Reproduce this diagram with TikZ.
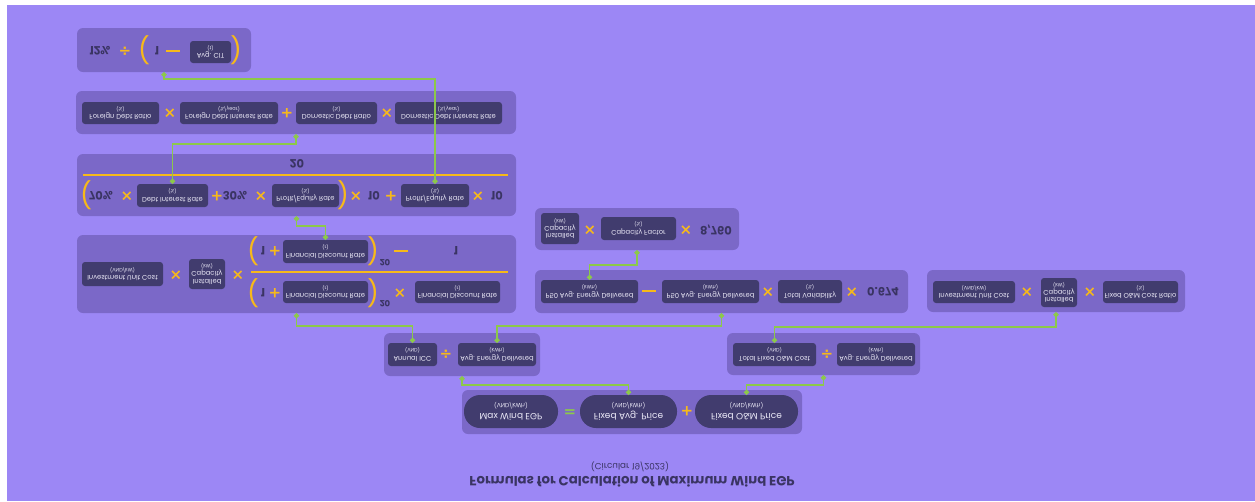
\documentclass[tikz,border=0pt]{standalone}
\usepackage{fontspec}
\setmainfont{Poppins}
\newfontfamily\egpops{DejaVu Sans}
\usetikzlibrary{
    arrows.meta,
    calc
}
\definecolor{egpbg}{HTML}{9C87F5}
\definecolor{egppanel}{HTML}{7B68C8}
\definecolor{egpbox}{HTML}{413C6E}
\definecolor{egplight}{HTML}{ECEAF8}
\definecolor{egpgold}{HTML}{F7B91A}
\definecolor{egpgreen}{HTML}{8CC84B}
\definecolor{egpink}{HTML}{3A3463}
\newcommand{\egpunit}{\fontsize{5}{6}\selectfont}
\newcommand{\egppillunit}{\fontsize{6}{7.5}\selectfont}

\begin{document}
\begin{tikzpicture}[
    x=1pt, y=1pt, yscale=-1, transform shape,
    every node/.style={text=egpink},
    panel/.style={
        rectangle,
        rounded corners=6pt,
        fill=egppanel,
        inner sep=0pt
    },
    varbox/.style={
        rectangle,
        rounded corners=3pt,
        fill=egpbox,
        text=egplight,
        align=center,
        inner sep=1pt,
        font=\fontsize{6.8}{7.4}\selectfont
    },
    pill/.style={
        rectangle,
        rounded corners=16pt,
        fill=egpbox,
        text=egplight,
        align=center,
        inner sep=1pt,
        font=\fontsize{9}{10.5}\selectfont
    },
    op/.style={
        text=#1,
        inner sep=0pt,
        font=\egpops\fontsize{15}{15}\selectfont\bfseries
    },
    op/.default=egpgold,
    minus/.style={
        text=egpgold,
        inner sep=0pt
    },
    num/.style={
        inner sep=0pt,
        font=\fontsize{11.5}{12}\selectfont\bfseries
    },
    expo/.style={
        inner sep=0pt,
        font=\fontsize{8.5}{9}\selectfont\bfseries
    },
    paren/.style={
        text=egpgold,
        inner sep=0pt,
        font=\fontsize{26}{26}\selectfont
    },
    fracbar/.style={
        draw=egpgold,
        line width=2pt
    },
    link/.style={
        {Circle[length=5pt]}-{Circle[length=5pt]},
        draw=egpgreen,
        line width=1.5pt
    }
]

\useasboundingbox (0,0) rectangle (1255,501);
\fill[egpbg] (7,5) rectangle (1255,501);

% =====================================================
% Panels
% =====================================================

\node[panel, minimum width=174pt, minimum height=44pt] (pper) at (164,50) {};
\node[panel, minimum width=440pt, minimum height=43pt] (pdir) at (296,112.5) {};
\node[panel, minimum width=439pt, minimum height=62pt] (pfdr) at (296.5,185) {};
\node[panel, minimum width=439pt, minimum height=78pt] (picc) at (296.5,274) {};
\node[panel, minimum width=204pt, minimum height=42pt] (pp50) at (637,229) {};
\node[panel, minimum width=373pt, minimum height=43pt] (paed) at (721.5,291.5) {};
\node[panel, minimum width=258pt, minimum height=42pt] (pfom) at (1056,291) {};
\node[panel, minimum width=156pt, minimum height=43pt] (pavg) at (462,354.5) {};
\node[panel, minimum width=193pt, minimum height=42pt] (pomp) at (823.5,354) {};
\node[panel, minimum width=340pt, minimum height=44pt] (pegp) at (632,412) {};

% =====================================================
% Profit/Equity Rate
% =====================================================

\node[num] (n12) at (100,51) {12\%};
\node[op] (d1) at (125,51) {÷};
\node[paren] (l1) at (144,50) {(};
\node[num] (one1) at (157,51) {1};
\node[minus] (m1) at (173,51) {\rule{14pt}{2.2pt}};
\node[varbox, minimum width=41pt, minimum height=22pt] (cit) at (210.5,52)
{Avg. CIT\\{\egpunit (t)}};
\node[paren] (r1) at (236,50) {)};

% =====================================================
% Debt Interest Rate
% =====================================================

\node[varbox, minimum width=77pt, minimum height=22pt] (fdebt) at (120.5,113)
{Foreign Debt Ratio\\{\egpunit (\%)}};
\node[op] (x1) at (170,113) {×};
\node[varbox, minimum width=98pt, minimum height=22pt] (fdir) at (229,113)
{Foreign Debt Interest Rate\\{\egpunit (\%/year)}};
\node[op] (a1) at (287,113) {+};
\node[varbox, minimum width=81pt, minimum height=22pt] (ddebt) at (336.5,113)
{Domestic Debt Ratio\\{\egpunit (\%)}};
\node[op] (x2) at (387,113) {×};
\node[varbox, minimum width=107pt, minimum height=22pt] (ddir) at (448.5,113)
{Domestic Debt Interest Rate\\{\egpunit (\%/year)}};

% =====================================================
% Financial Discount Rate
% =====================================================

\node[num] (n20) at (297,164) {20};
\draw[fracbar] (83,175) -- (508,175);

\node[paren] (l2) at (86,195) {(};
\node[num] (n70) at (101,196) {70\%};
\node[op] (x3) at (127,196) {×};
\node[varbox, minimum width=71pt, minimum height=23pt] (dir) at (172.5,195.5)
{Debt Interest Rate\\{\egpunit (\%)}};
\node[op] (a2) at (217,196) {+};
\node[num] (n30) at (235,196) {30\%};
\node[op] (x4) at (261,196) {×};
\node[varbox, minimum width=67pt, minimum height=23pt] (per1) at (305.5,195.5)
{Profit/Equity Rate\\{\egpunit (\%)}};
\node[paren] (r2) at (343,195) {)};
\node[op] (x5) at (356,196) {×};
\node[num] (n10a) at (374,196) {10};
\node[op] (a3) at (391,196) {+};
\node[varbox, minimum width=68pt, minimum height=23pt] (per2) at (435,195.5)
{Profit/Equity Rate\\{\egpunit (\%)}};
\node[op] (x6) at (478,196) {×};
\node[num] (n10b) at (497,196) {10};

% =====================================================
% Annual ICC
% =====================================================

\node[varbox, minimum width=81pt, minimum height=24pt] (inv1) at (122.5,274)
{Investment Unit Cost\\{\egpunit (VND/kW)}};
\node[op] (x7) at (176,275) {×};
\node[varbox, minimum width=36pt, minimum height=30pt] (cap1) at (207,274)
{Installed\\Capacity\\{\egpunit (kW)}};
\node[op] (x8) at (238,275) {×};

\draw[fracbar] (251,272) -- (508,272);

\node[paren] (l3) at (253,251) {(};
\node[num] (one2) at (263,251) {1};
\node[op] (a4) at (275,251) {+};
\node[varbox, minimum width=85pt, minimum height=23pt] (fdra) at (325.5,251.5)
{Financial Discount Rate\\{\egpunit (r)}};
\node[paren] (r3) at (373,251) {)};
\node[expo] (e1) at (385,263) {20};
\node[minus] (m2) at (401,251) {\rule{14pt}{2.2pt}};
\node[num] (one3) at (456,251) {1};

\node[paren] (l4) at (253,293) {(};
\node[num] (one4) at (263,293) {1};
\node[op] (a5) at (275,293) {+};
\node[varbox, minimum width=85pt, minimum height=22pt] (fdrb) at (325.5,292)
{Financial Discount Rate\\{\egpunit (r)}};
\node[paren] (r4) at (373,293) {)};
\node[expo] (e2) at (385,304) {20};
\node[op] (x9) at (400,293) {×};
\node[varbox, minimum width=85pt, minimum height=22pt] (fdrc) at (457.5,292)
{Financial Discount Rate\\{\egpunit (r)}};

% =====================================================
% P50 energy
% =====================================================

\node[varbox, minimum width=38pt, minimum height=31pt] (cap2) at (560,228.5)
{Installed\\Capacity\\{\egpunit (kW)}};
\node[op] (x10) at (590,230) {×};
\node[varbox, minimum width=75pt, minimum height=23pt] (cf) at (638.5,228.5)
{Capacity Factor\\{\egpunit (\%)}};
\node[op] (x11) at (686,230) {×};
\node[num] (n8760) at (716,230) {8,760};

% =====================================================
% Avg. energy delivered
% =====================================================

\node[varbox, minimum width=97pt, minimum height=23pt] (p50a) at (589.5,291.5)
{P50 Avg. Energy Delivered\\{\egpunit (kWh)}};
\node[minus] (m3) at (649,291) {\rule{14pt}{2.2pt}};
\node[varbox, minimum width=97pt, minimum height=23pt] (p50b) at (710.5,291.5)
{P50 Avg. Energy Delivered\\{\egpunit (kWh)}};
\node[op] (x12) at (768,292) {×};
\node[varbox, minimum width=64pt, minimum height=23pt] (tv) at (810,291.5)
{Total Variability\\{\egpunit (\%)}};
\node[op] (x13) at (852,292) {×};
\node[num] (n674) at (883,292) {0.674};

% =====================================================
% Total fixed O&M cost
% =====================================================

\node[varbox, minimum width=82pt, minimum height=22pt] (inv2) at (974,292)
{Investment Unit Cost\\{\egpunit (VND/kW)}};
\node[op] (x14) at (1027,292) {×};
\node[varbox, minimum width=36pt, minimum height=29pt] (cap3) at (1059,292.5)
{Installed\\Capacity\\{\egpunit (kW)}};
\node[op] (x15) at (1090,292) {×};
\node[varbox, minimum width=75pt, minimum height=22pt] (fomr) at (1140.5,292)
{Fixed O\&M Cost Ratio\\{\egpunit (\%)}};

% =====================================================
% Price components
% =====================================================

\node[varbox, minimum width=49pt, minimum height=23pt] (icc) at (412.5,354.5)
{Annual ICC\\{\egpunit (VND)}};
\node[op] (d2) at (446,354) {÷};
\node[varbox, minimum width=78pt, minimum height=23pt] (aed1) at (497,354.5)
{Avg. Energy Delivered\\{\egpunit (kWh)}};

\node[varbox, minimum width=83pt, minimum height=23pt] (tfom) at (774.5,354.5)
{Total Fixed O\&M Cost\\{\egpunit (VND)}};
\node[op] (d3) at (827,354) {÷};
\node[varbox, minimum width=78pt, minimum height=23pt] (aed2) at (876,354.5)
{Avg. Energy Delivered\\{\egpunit (kWh)}};

% =====================================================
% Max Wind EGP
% =====================================================

\node[pill, minimum width=94pt, minimum height=33pt] (egp) at (511,411.5)
{Max Wind EGP\\{\egppillunit (VND/kWh)}};
\node[op=egpgreen] (eq) at (570,411) {=};
\node[pill, minimum width=97pt, minimum height=33pt] (favg) at (628.5,411.5)
{Fixed Avg. Price\\{\egppillunit (VND/kWh)}};
\node[op] (a6) at (687,411) {+};
\node[pill, minimum width=103pt, minimum height=33pt] (fomp) at (746.5,411.5)
{Fixed O\&M Price\\{\egppillunit (VND/kWh)}};

% =====================================================
% Links
% =====================================================

\draw[link] (favg.south) -- ++(0,-10) -| (pavg.north);
\draw[link] (fomp.south) -- ++(0,-10) -| (pomp.north);
\draw[link] (icc.south) -- ++(0,-17) -| (picc.north);
\draw[link] (aed1.south) -- ++(0,-17) -| (paed.north);
\draw[link] (tfom.south) -- ++(0,-16) -| (pfom.north);
\draw[link] (p50a.south) -- ++(0,-15) -| (pp50.north);
\draw[link] (fdra.south) -- ++(0,-14) -| (pfdr.north);
\draw[link] (dir.south) -- ++(0,-40) -| (pdir.north);
\draw[link] (per2.south) -- ++(0,-105) -| (pper.north);

% =====================================================
% Title
% =====================================================

\node[font=\fontsize{8.8}{10}\selectfont] (sub) at (630,467)
{(Circular 19/2023)};
\node[font=\fontsize{13.3}{15}\selectfont\bfseries] (title) at (632,482)
{Formulas for Calculation of Maximum Wind EGP};

\end{tikzpicture}
\end{document}
